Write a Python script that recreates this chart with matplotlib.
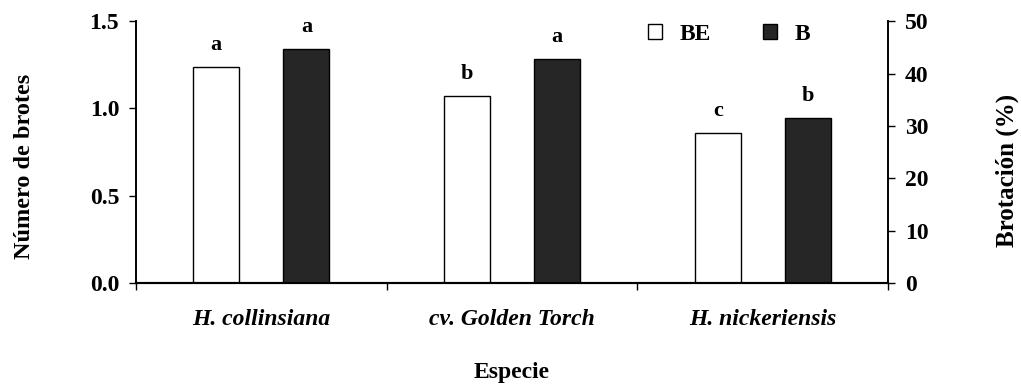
import matplotlib.pyplot as plt
import numpy as np

# Data
especies = ['H. collinsiana', 'cv. Golden Torch', 'H. nickeriensis']
num_brotes = [1.235, 1.07, 0.86]        # BE, left axis
brotacion = [44.6, 42.7, 31.5]           # B, right axis (%)
letras_be = ['a', 'b', 'c']
letras_b = ['a', 'a', 'b']

plt.rcParams['font.family'] = 'Liberation Serif'
plt.rcParams['font.weight'] = 'bold'

fig = plt.figure(figsize=(10.21, 3.85), dpi=100)
ax = fig.add_axes([0.133, 0.265, 0.737, 0.68])
ax2 = ax.twinx()

x = np.arange(len(especies))
w = 0.184
off = 0.18

b1 = ax.bar(x - off, num_brotes, w, color='white', edgecolor='black', linewidth=1, label='BE')
b2 = ax2.bar(x + off, brotacion, w, color='#262626', edgecolor='black', linewidth=1, label='B')

for xi, v, l in zip(x, num_brotes, letras_be):
    ax.text(xi - off, v + 0.07, l, ha='center', va='bottom', fontsize=16, fontweight='bold')
for xi, v, l in zip(x, brotacion, letras_b):
    ax2.text(xi + off, v + 2.3, l, ha='center', va='bottom', fontsize=16, fontweight='bold')

ax.set_xlim(-0.5, 2.5)
ax.set_ylim(0, 1.5)
ax2.set_ylim(0, 50)
ax.set_yticks([0, 0.5, 1.0, 1.5])
ax.set_yticklabels(['0.0', '0.5', '1.0', '1.5'])
ax2.set_yticks([0, 10, 20, 30, 40, 50])

ax.set_xticks([-0.5, 0.5, 1.5, 2.5])
ax.set_xticklabels([])
ax.set_xticks(x, minor=True)
ax.set_xticklabels(especies, minor=True, fontsize=17, fontstyle='italic', fontweight='bold')
ax.tick_params(axis='x', which='minor', length=0, pad=19)
ax.tick_params(axis='x', which='major', length=5, direction='out', width=1)
ax.tick_params(axis='y', labelsize=17, length=5, width=1, direction='out', pad=7)
ax2.tick_params(axis='y', labelsize=17, length=5, width=1, direction='out', pad=7)

for a in (ax, ax2):
    a.spines['top'].set_visible(False)
    a.spines['left'].set_linewidth(1.2)
    a.spines['right'].set_linewidth(1.2)
    a.spines['bottom'].set_linewidth(1.5)

ax.set_ylabel('Número de brotes', fontsize=17.5, fontweight='bold')
ax2.set_ylabel('Brotación (%)', fontsize=18, fontweight='bold')
ax.set_xlabel('Especie', fontsize=17, fontweight='bold')
# label positions (axes fraction)
ax.yaxis.set_label_coords(-0.134, 0.445)
ax2.yaxis.set_label_coords(1.142, 0.43)
ax.xaxis.set_label_coords(0.5, -0.30)

ax.legend(handles=[b1, b2], labels=['BE', 'B'], loc='upper right', bbox_to_anchor=(0.925, 1.072),
          ncol=2, frameon=False, handlelength=0.6, handleheight=0.6,
          columnspacing=2.2, handletextpad=0.75, prop={'weight': 'bold', 'size': 17})

fig.savefig('out.png', dpi=100)
